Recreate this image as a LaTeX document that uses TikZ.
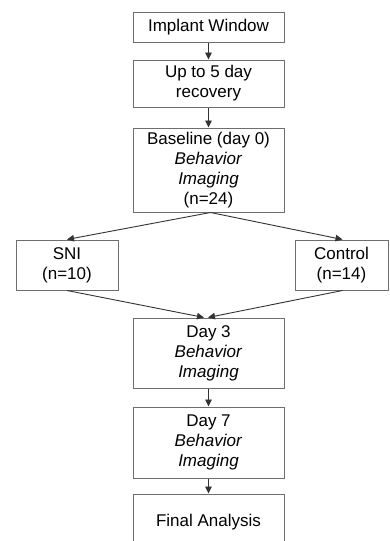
\documentclass[tikz,border=0pt]{standalone}
\usepackage{fontspec}
\setmainfont{Liberation Sans}
\usetikzlibrary{arrows.meta,positioning}
\definecolor{boxgray}{HTML}{6E6E6E}
\definecolor{linegray}{HTML}{333333}
\tikzset{
  stage/.style={draw=boxgray,line width=1pt,fill=white,align=center,inner sep=0pt,
    minimum width=151pt,text=black,font=\fontsize{17}{20}\selectfont},
  group/.style={stage,minimum width=102pt,minimum height=50pt},
  link/.style={->,draw=linegray,line width=0.9pt},
}

\begin{document}
\begin{tikzpicture}[x=1pt,y=-1pt,>={Triangle[length=7pt,width=6.5pt]},semithick]
	\clip (0,0) rectangle (389,541);
	\fill[white] (0,0) rectangle (389,541);
	\node[stage,minimum height=30pt] (win) at(208.5,27){Implant Window};
	\node[stage,minimum height=47pt] (rec) at(208.5,83.5){Up to 5 day\\recovery};
	\node[stage,minimum height=84pt] (base) at(208.5,170){Baseline (day 0)\\\textit{Behavior}\\\textit{Imaging}\\(n=24)};
	\node[group] (sni) at(67,265){SNI\\(n=10)};
	\node[group,minimum width=93pt] (ctrl) at(341.5,265){Control\\(n=14)};
	\node[stage,minimum height=70pt] (day3) at(208.5,353){Day 3\\\textit{Behavior}\\\textit{Imaging}};
	\node[stage,minimum height=71pt] (day7) at(208.5,442.5){Day 7\\\textit{Behavior}\\\textit{Imaging}};
	\node[stage,minimum height=56pt] (final) at(208.5,522){Final Analysis};

	\draw[link] (win) -- (rec);
	\draw[link] (rec) -- (base);
	\draw[link] ([xshift=2pt]base.south) -- (sni.north);
	\draw[link] ([xshift=2pt]base.south) -- ([xshift=1pt]ctrl.north);
	\draw[link] (sni.south) -- ([xshift=-4.5pt]day3.north);
	\draw[link] ([xshift=1pt]ctrl.south) -- ([xshift=-0.5pt]day3.north);
	\draw[link] (day3) -- (day7);
	\draw[link] (day7) -- (final);
\end{tikzpicture}
\end{document}
